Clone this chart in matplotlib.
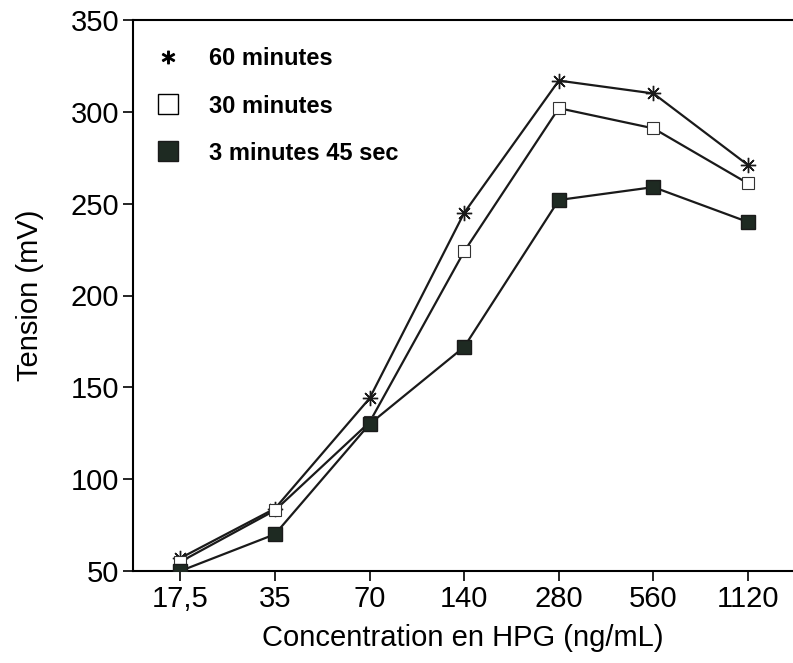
import matplotlib
matplotlib.use("Agg")
import matplotlib.pyplot as plt
from matplotlib.lines import Line2D

categories = ["17,5", "35", "70", "140", "280", "560", "1120"]
min60 = [57, 84, 144, 245, 317, 310, 271]
min30 = [55, 83, 131, 224, 302, 291, 261]
min3_45 = [50, 70, 130, 172, 252, 259, 240]
yticks = [50, 100, 150, 200, 250, 300, 350]

plt.rcParams['font.family'] = ['Liberation Sans', 'DejaVu Sans']

fig = plt.figure(figsize=(7.93, 6.63), dpi=100)
ax = fig.add_axes([133/793, 1-571/663, 1-133/793, (571-20)/663])

x = list(range(len(categories)))
star = (8, 2, 0)
ax.plot(x, min60, color='#1a1a1a', lw=1.6, marker=star, ms=11, mew=1.0,
        label='60 minutes', zorder=3)
ax.plot(x, min30, color='#1a1a1a', lw=1.6, marker='s', ms=9, mfc='white',
        mec='#333333', mew=0.8, label='30 minutes', zorder=3)
ax.plot(x, min3_45, color='#1a1a1a', lw=1.6, marker='s', ms=9.5, mfc='#1e2a22',
        mec='#1a1a1a', label='3 minutes 45 sec', zorder=4)

ax.set_xlim(-0.5, 6.475)
ax.set_ylim(50, 350)
ax.set_xticks(x)
ax.set_xticklabels(categories)
ax.set_yticks(yticks)
ax.tick_params(axis='both', labelsize=21, direction='out', length=7, width=1.2, pad=3)
ax.spines['right'].set_visible(False)
for s in ['left', 'bottom', 'top']:
    ax.spines[s].set_linewidth(1.5)

ax.set_xlabel('Concentration en HPG (ng/mL)', fontsize=21, labelpad=8)
ax.set_ylabel('Tension (mV)', fontsize=21, labelpad=19)

h1 = Line2D([], [], ls='none', marker='$*$', ms=9, color='black')
h2 = Line2D([], [], ls='none', marker='s', ms=14, mfc='white', mec='black', mew=1.0)
h3 = Line2D([], [], ls='none', marker='s', ms=14, mfc='#1e2a22', mec='#1a1a1a')
leg = ax.legend([h1, h2, h3], ['60 minutes', '30 minutes', '3 minutes 45 sec'],
                loc='upper left', bbox_to_anchor=(0.0, 0.993), frameon=False,
                prop={'weight': 'bold', 'size': 17}, handlelength=1.0,
                handletextpad=1.2, labelspacing=1.02, borderaxespad=0.6)

fig.savefig('out.png', dpi=100)
